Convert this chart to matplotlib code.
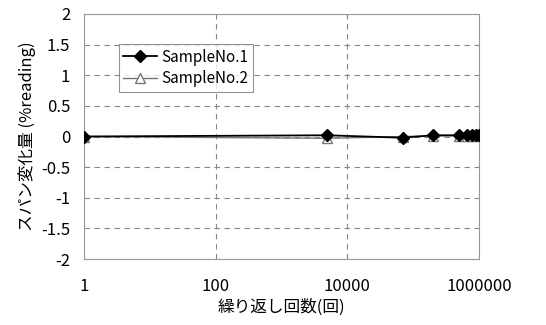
import numpy as np
import matplotlib
matplotlib.use('Agg')
import matplotlib.pyplot as plt

plt.rcParams['font.family'] = ['Noto Sans CJK JP', 'DejaVu Sans']

# cycle counts and span change (%reading)
cycles = [1, 5000, 70000, 200000, 500000, 650000, 780000, 900000, 1000000]
sample1 = [0.0, 0.02, -0.02, 0.02, 0.02, 0.02, 0.02, 0.03, 0.03]
sample2 = [0.0, -0.03, 0.0, 0.01, 0.01, 0.01, 0.01, 0.01, 0.02]
yticks = [-2, -1.5, -1, -0.5, 0, 0.5, 1, 1.5, 2]
xticks = [1, 100, 10000, 1000000]

fig = plt.figure(figsize=(5.46, 3.25), dpi=100)
ax = fig.add_axes([0.154, 0.203, 0.723, 0.754])

ax.plot(cycles, sample2, color='#777777', lw=1, marker='^', ms=7,
        mfc='white', mec='#777777', label='SampleNo.2', zorder=3)
ax.plot(cycles, sample1, color='black', lw=1.3, marker='D', ms=6,
        mfc='black', mec='black', label='SampleNo.1', zorder=4)

ax.set_xscale('log')
ax.set_xlim(1, 1000000)
ax.set_ylim(-2, 2)
ax.set_xticks(xticks)
ax.set_xticklabels([str(x) for x in xticks])
ax.minorticks_off()
ax.set_yticks(yticks)
ax.set_yticklabels(['%g' % v for v in yticks])
ax.tick_params(length=0, labelsize=12)
ax.tick_params(axis='x', pad=14)
ax.tick_params(axis='y', pad=10)

ax.grid(True, ls=(0, (5, 4)), color='#888888', lw=0.8)
for s in ax.spines.values():
    s.set_color('#999999')

ax.set_xlabel('繰り返し回数(回)', fontsize=12, labelpad=2)
ax.set_ylabel('スパン変化量 (%reading)', fontsize=12, labelpad=4)

h, l = ax.get_legend_handles_labels()
leg = ax.legend(h[::-1], l[::-1], loc='upper left', bbox_to_anchor=(0.08, 0.89),
                fontsize=11, frameon=True, fancybox=False, edgecolor='#777777',
                borderpad=0.3, handlelength=2.2, handletextpad=0.3,
                borderaxespad=0.2, labelspacing=0.3)
leg.get_frame().set_linewidth(0.8)

plt.savefig('out.png', dpi=100)
